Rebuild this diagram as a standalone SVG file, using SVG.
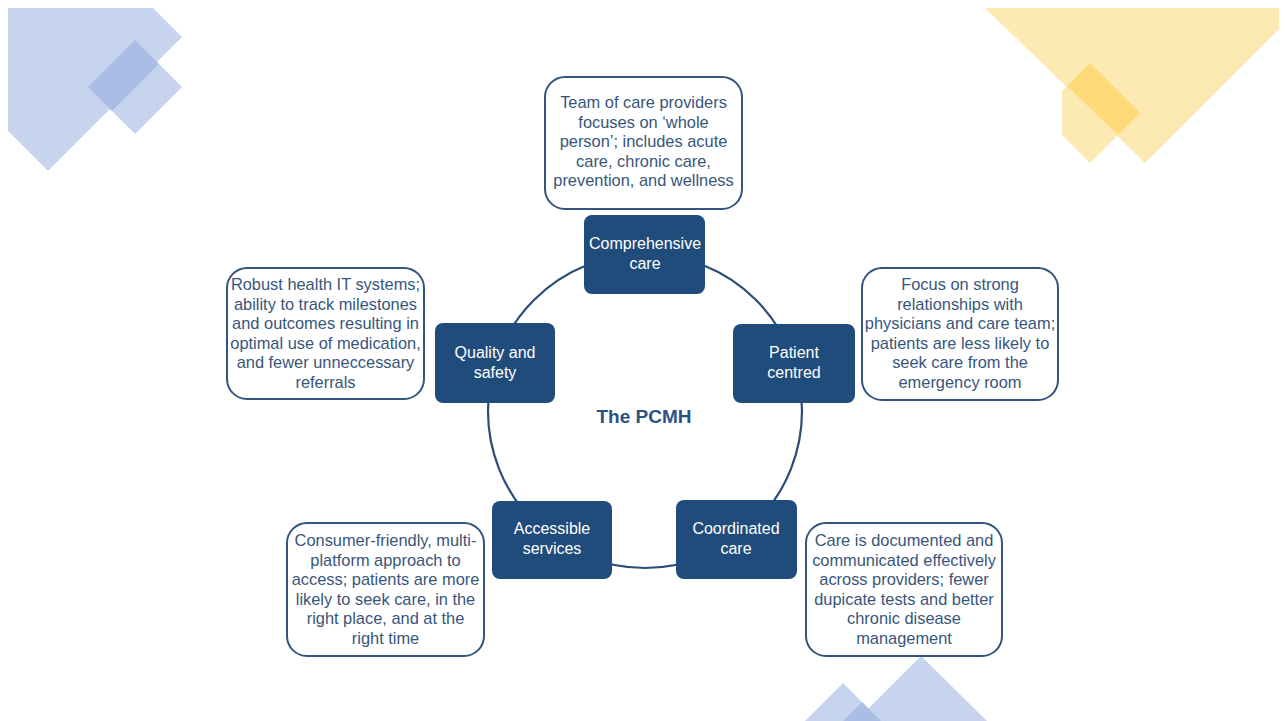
<svg xmlns="http://www.w3.org/2000/svg" width="1285" height="721" viewBox="0 0 1285 721">
<style>
.bl{fill:#c7d4ee}
.blo{fill:#a9bde5}
.yl{fill:#fde9b2}
.ylo{fill:#fedb78}
.node rect{fill:#1f4c7b}
.node text{fill:#ffffff;font-family:"Liberation Sans",Arial,sans-serif;font-size:16px;text-anchor:middle}
.note rect{fill:#ffffff;stroke:#34557f;stroke-width:2}
.note text{fill:#37567c;font-family:"Liberation Sans",Arial,sans-serif;font-size:16.4px;text-anchor:middle}
.conn{fill:none;stroke:#2a4c76;stroke-width:2.2}
.title{fill:#2d5281;font-family:"Liberation Sans",Arial,sans-serif;font-size:19px;font-weight:bold;text-anchor:middle}
</style>
<rect width="1285" height="721" fill="#ffffff"/>
<g id="decor">
  <polygon class="bl" points="8,8 153,8 182,37 48,171 8,131"/>
  <polygon class="bl" points="135,40 182,87 135,134 88,87"/>
  <polygon class="blo" points="135,40 159,64 112,111 88,87"/>
  <polygon class="yl" points="985,8 1279,8 1279,29 1145,163"/>
  <polygon class="yl" points="1090,63 1140,113 1090,163 1062,135 1062,91"/>
  <polygon class="ylo" points="1090,63 1140,113 1118,135 1067,86"/>
  <polygon class="bl" points="921,656 987,721 856,721"/>
  <polygon class="bl" points="843,683 881,721 805,721"/>
  <polygon class="blo" points="862,702 881,721 843,721"/>
</g>
<g id="connectors">
  <circle class="conn" cx="645" cy="411" r="157"/>
</g>
<g id="node-comprehensive" class="node">
  <rect x="584" y="215" width="121" height="79" rx="8"/>
  <text x="645" y="249">Comprehensive</text>
  <text x="645" y="269">care</text>
</g>
<g id="node-quality" class="node">
  <rect x="435" y="323" width="120" height="80" rx="8"/>
  <text x="495" y="358">Quality and</text>
  <text x="495" y="378">safety</text>
</g>
<g id="node-patient" class="node">
  <rect x="733" y="324" width="122" height="79" rx="8"/>
  <text x="794" y="358">Patient</text>
  <text x="794" y="378">centred</text>
</g>
<g id="node-accessible" class="node">
  <rect x="492" y="501" width="120" height="78" rx="8"/>
  <text x="552" y="534">Accessible</text>
  <text x="552" y="554">services</text>
</g>
<g id="node-coordinated" class="node">
  <rect x="676" y="500" width="121" height="79" rx="8"/>
  <text x="736" y="534">Coordinated</text>
  <text x="736" y="554">care</text>
</g>
<g id="note-comprehensive" class="note">
  <rect x="545" y="77" width="197" height="132" rx="20"/>
  <text x="643.5" y="108">Team of care providers</text>
  <text x="643.5" y="128">focuses on ‘whole</text>
  <text x="643.5" y="147">person’; includes acute</text>
  <text x="643.5" y="167">care, chronic care,</text>
  <text x="643.5" y="186">prevention, and wellness</text>
</g>
<g id="note-quality" class="note">
  <rect x="227" y="268" width="197" height="131" rx="20"/>
  <text x="325.5" y="290">Robust health IT systems;</text>
  <text x="325.5" y="310">ability to track milestones</text>
  <text x="325.5" y="329">and outcomes resulting in</text>
  <text x="325.5" y="349">optimal use of medication,</text>
  <text x="325.5" y="368">and fewer unneccessary</text>
  <text x="325.5" y="388">referrals</text>
</g>
<g id="note-patient" class="note">
  <rect x="862" y="268" width="196" height="132" rx="20"/>
  <text x="960" y="290">Focus on strong</text>
  <text x="960" y="310">relationships with</text>
  <text x="960" y="329">physicians and care team;</text>
  <text x="960" y="349">patients are less likely to</text>
  <text x="960" y="368">seek care from the</text>
  <text x="960" y="388">emergency room</text>
</g>
<g id="note-accessible" class="note">
  <rect x="287" y="523" width="197" height="133" rx="20"/>
  <text x="385.5" y="546">Consumer-friendly, multi-</text>
  <text x="385.5" y="566">platform approach to</text>
  <text x="385.5" y="585">access; patients are more</text>
  <text x="385.5" y="605">likely to seek care, in the</text>
  <text x="385.5" y="624">right place, and at the</text>
  <text x="385.5" y="644">right time</text>
</g>
<g id="note-coordinated" class="note">
  <rect x="806" y="523" width="196" height="133" rx="20"/>
  <text x="904" y="546">Care is documented and</text>
  <text x="904" y="566">communicated effectively</text>
  <text x="904" y="585">across providers; fewer</text>
  <text x="904" y="605">dupicate tests and better</text>
  <text x="904" y="624">chronic disease</text>
  <text x="904" y="644">management</text>
</g>
<g id="title">
  <text class="title" x="644" y="423">The PCMH</text>
</g>
</svg>
